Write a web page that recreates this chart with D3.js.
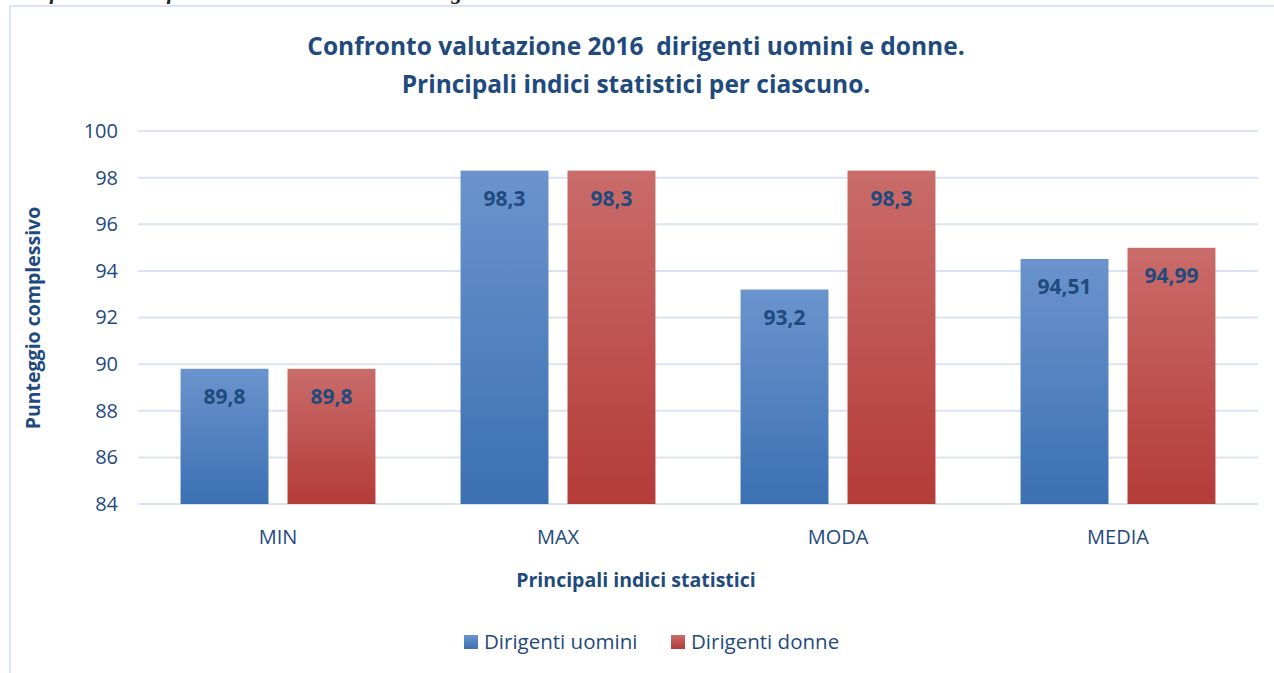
<!DOCTYPE html>
<html>
<head>
<meta charset="utf-8">
<script src="https://cdn.jsdelivr.net/npm/d3@7"></script>
<style>
  body { margin: 0; background: #fff; }
  svg { display: block; font-family: "Open Sans", "Noto Sans", sans-serif; }
</style>
</head>
<body>
<div id="chart"></div>
<script>
  // data
  var categories = ["MIN", "MAX", "MODA", "MEDIA"];
  var seriesNames = ["Dirigenti uomini", "Dirigenti donne"];
  var uomini = [89.8, 98.3, 93.2, 94.51];
  var donne = [89.8, 98.3, 98.3, 94.99];
  var yTicks = [84, 86, 88, 90, 92, 94, 96, 98, 100];
  var titleLines = ["Confronto valutazione 2016  dirigenti uomini e donne.", "Principali indici statistici per ciascuno."];

  var W = 1274, H = 673;
  var margin = { top: 131, right: 16, bottom: 169, left: 138 };
  var width = W - margin.left - margin.right;
  var height = H - margin.top - margin.bottom;
  var textCol = "#1f4a7e";
  var gridCol = "#d9e3f2";

  var rows = categories.map(function(c, i) {
    return { cat: c, values: [uomini[i], donne[i]] };
  });

  var svg = d3.select("#chart").append("svg").attr("width", W).attr("height", H);

  var defs = svg.append("defs");
  var grads = [["gBlue", "#6b94cd", "#3b70b3"], ["gRed", "#c96c6a", "#b43b38"]];
  grads.forEach(function(g) {
    var lg = defs.append("linearGradient").attr("id", g[0]).attr("x1", 0).attr("y1", 0).attr("x2", 0).attr("y2", 1);
    lg.append("stop").attr("offset", "0%").attr("stop-color", g[1]);
    lg.append("stop").attr("offset", "100%").attr("stop-color", g[2]);
  });

  // caption above the chart frame, cut off by the page edge as in the source
  svg.append("text").attr("x", 14).attr("y", -1)
    .style("font-family", "'Liberation Serif', serif").style("font-style", "italic").style("font-weight", "bold")
    .style("font-size", "22px").attr("fill", "#222")
    .text("Grafico n. 3  Confronto della valutazione dei dirigenti uomini e donne.");

  // chart frame
  svg.append("rect").attr("x", 10).attr("y", 6).attr("width", W).attr("height", H)
    .attr("fill", "#fff").attr("stroke", gridCol).attr("stroke-width", 2);

  svg.selectAll("text.title").data(titleLines).enter().append("text")
    .attr("class", "title")
    .attr("x", 636).attr("y", function(d, i) { return 55 + i * 38; })
    .attr("text-anchor", "middle").attr("fill", textCol)
    .attr("xml:space", "preserve").style("white-space", "pre")
    .style("font-size", "24.5px").style("font-weight", "bold")
    .text(function(d) { return d; });

  var plot = svg.append("g").attr("transform", "translate(" + margin.left + "," + margin.top + ")");

  var x0 = d3.scaleBand().domain(categories).range([0, width]).paddingInner(0.304).paddingOuter(0.152);
  var x1 = d3.scaleBand().domain([0, 1]).range([0, x0.bandwidth()]).paddingInner(0.178);
  var y = d3.scaleLinear().domain([84, 100]).range([height, 0]);

  // gridlines
  plot.append("g").selectAll("line").data(yTicks).enter().append("line")
    .attr("x1", 0).attr("x2", width)
    .attr("y1", function(d) { return y(d); }).attr("y2", function(d) { return y(d); })
    .attr("stroke", gridCol).attr("stroke-width", 2);

  var yAxis = plot.append("g").attr("transform", "translate(-12,0)")
    .call(d3.axisLeft(y).tickValues(yTicks).tickSize(0).tickPadding(8));
  yAxis.select(".domain").remove();
  yAxis.selectAll("text").attr("fill", textCol).style("font-size", "20px").style("font-family", "'Open Sans', sans-serif");

  var xAxis = plot.append("g").attr("transform", "translate(0," + height + ")")
    .call(d3.axisBottom(x0).tickSize(0).tickPadding(26));
  xAxis.select(".domain").remove();
  xAxis.selectAll("text").attr("fill", textCol).style("font-size", "20px").style("font-family", "'Open Sans', sans-serif");

  var groups = plot.selectAll("g.grp").data(rows).enter().append("g")
    .attr("class", "grp")
    .attr("transform", function(d) { return "translate(" + x0(d.cat) + ",0)"; });

  var bars = groups.selectAll("g.bar").data(function(d) {
    return d.values.map(function(v, i) { return { i: i, v: v }; });
  }).enter().append("g").attr("class", "bar");

  bars.append("rect")
    .attr("x", function(d) { return x1(d.i); })
    .attr("y", function(d) { return y(d.v); })
    .attr("width", x1.bandwidth())
    .attr("height", function(d) { return height - y(d.v); })
    .attr("fill", function(d) { return d.i === 0 ? "url(#gBlue)" : "url(#gRed)"; });

  bars.append("text")
    .attr("x", function(d) { return x1(d.i) + x1.bandwidth() / 2; })
    .attr("y", function(d) { return y(d.v) + 35; })
    .attr("text-anchor", "middle").attr("fill", "#1f4a7e")
    .style("font-size", "21px").style("font-weight", "bold")
    .text(function(d) { return String(d.v).replace(".", ","); });

  // axis titles
  svg.append("text").attr("x", 636).attr("y", 587).attr("text-anchor", "middle")
    .attr("fill", textCol).style("font-size", "19.5px").style("font-weight", "bold")
    .text("Principali indici statistici");

  svg.append("text").attr("transform", "translate(40,318) rotate(-90)").attr("text-anchor", "middle")
    .attr("fill", textCol).style("font-size", "19.5px").style("font-weight", "bold")
    .text("Punteggio complessivo");

  // legend
  var legendX = [464, 671];
  var lg = svg.selectAll("g.leg").data(seriesNames).enter().append("g")
    .attr("class", "leg")
    .attr("transform", function(d, i) { return "translate(" + legendX[i] + ",635)"; });
  lg.append("rect").attr("width", 14).attr("height", 14)
    .attr("fill", function(d, i) { return i === 0 ? "url(#gBlue)" : "url(#gRed)"; });
  lg.append("text").attr("x", 20).attr("y", 14).attr("fill", textCol)
    .style("font-size", "20.5px").text(function(d) { return d; });
</script>
</body>
</html>
